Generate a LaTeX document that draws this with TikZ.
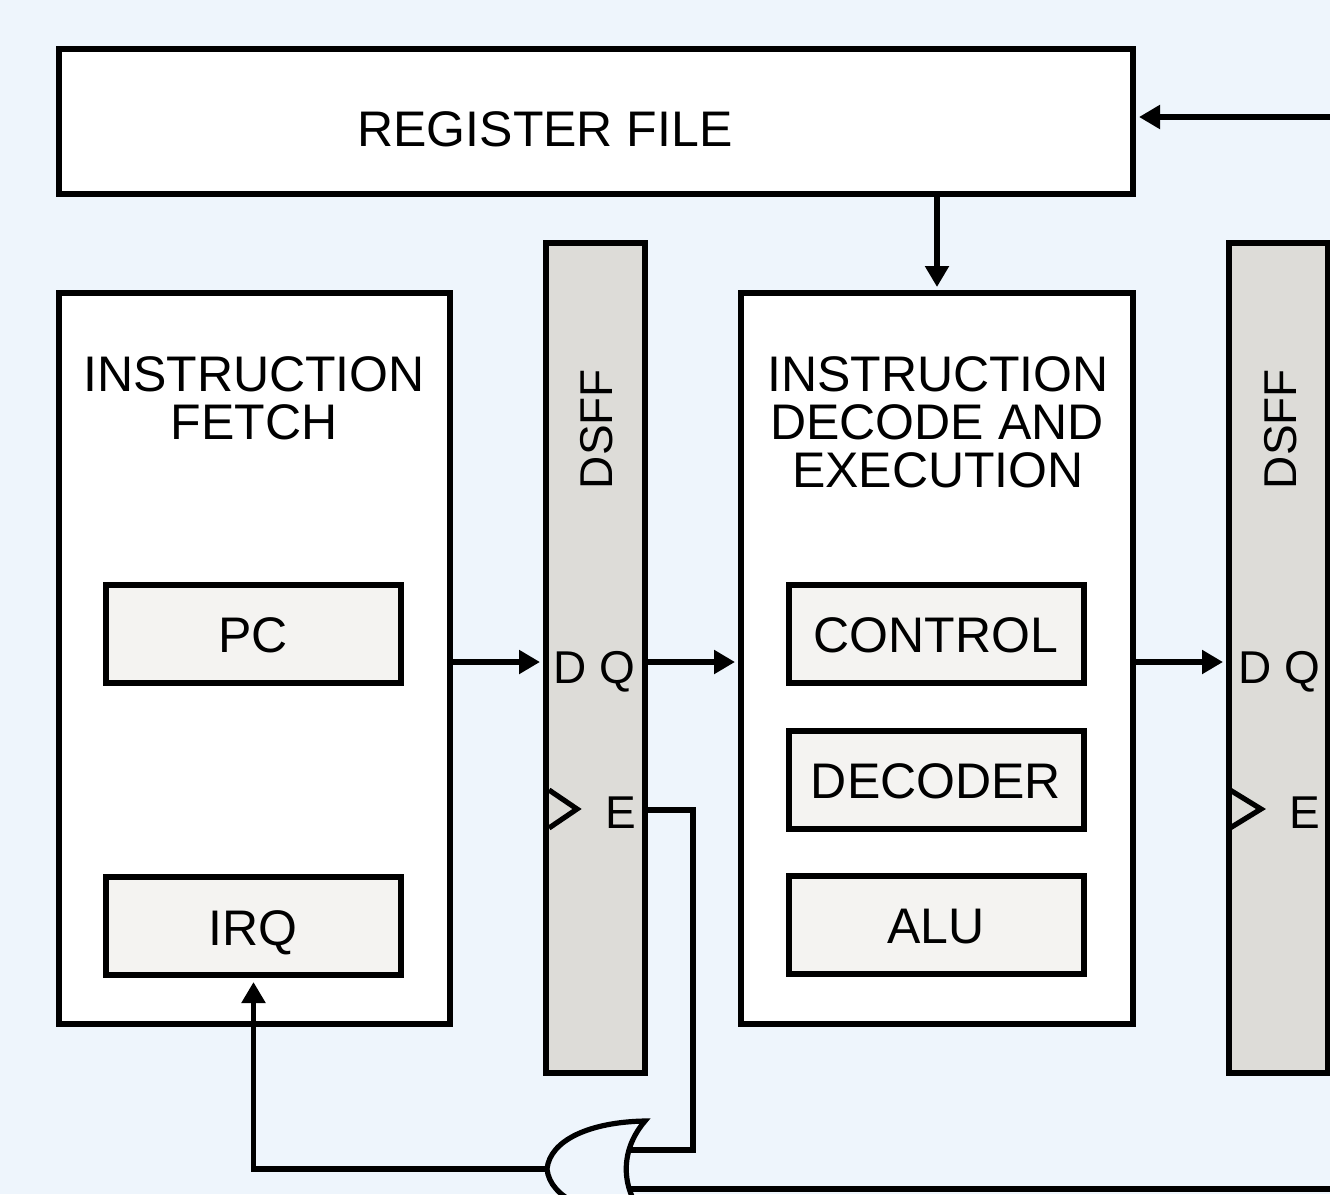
\documentclass[tikz,border=0pt]{standalone}
\usepackage{fontspec}
\setmainfont{Liberation Sans}
\usetikzlibrary{arrows.meta,calc}
\definecolor{bg}{HTML}{EEF5FC}
\definecolor{ffgray}{HTML}{DDDCD8}
\definecolor{subfill}{HTML}{F4F3F1}
\begin{document}
\begin{tikzpicture}[x=1pt,y=-1pt,line width=5.2pt,
  box/.style={draw,fill=white,anchor=north west,inner sep=0pt,outer sep=0pt},
  subbox/.style={box,fill=subfill,minimum width=295pt,minimum height=98pt},
  ffbox/.style={box,fill=ffgray,minimum width=99pt,minimum height=830pt},
  lbl/.style={font=\fontsize{50}{50}\selectfont,inner sep=0pt,anchor=base},
  pin/.style={font=\fontsize{46}{46}\selectfont,inner sep=0pt,anchor=base east},
  arr/.style={-{Triangle[length=21pt,width=23pt]},shorten >=6pt}]
\fill[bg] (0,0) rectangle (1330,1194);
\useasboundingbox (0,0) rectangle (1330,1194);
\clip (0,0) rectangle (1330,1194);

% main boxes
\node[box,minimum width=1074pt,minimum height=145pt] (rf) at (59,49) {};
\node[box,minimum width=391pt,minimum height=731pt] (ifb) at (59,293) {};
\node[ffbox] (ff1) at (546,243) {};
\node[box,minimum width=392pt,minimum height=731pt] (idb) at (741,293) {};
\node[ffbox] (ff2) at (1229,243) {};

% sub boxes
\node[subbox] (pc) at (106,585) {};
\node[subbox] (irq) at (106,877) {};
\node[subbox] (ctl) at (789,585) {};
\node[subbox] (dec) at (789,731) {};
\node[subbox] (alu) at (789,876) {};

% labels
\node[lbl] (rft) at (545,146) {REGISTER FILE};
\node[lbl] (if1) at (254,391) {INSTRUCTION};
\node[lbl] (if2) at (254,439) {FETCH};
\node[lbl] (id1) at (938,391) {INSTRUCTION};
\node[lbl] (id2) at (937,439) {DECODE AND};
\node[lbl] (id3) at (938,487) {EXECUTION};
\node[lbl] (pct) at (253,652) {PC};
\node[lbl] (irqt) at (253,945) {IRQ};
\node[lbl] (ctlt) at (936,652) {CONTROL};
\node[lbl] (dect) at (936,798) {DECODER};
\node[lbl] (alut) at (936,943) {ALU};

% flip-flop labels
\node[font=\fontsize{46}{46}\selectfont,inner sep=0pt,rotate=90] (ff1t) at (597,429) {DSFF};
\node[font=\fontsize{46}{46}\selectfont,inner sep=0pt,rotate=90] (ff2t) at (1281,429) {DSFF};
\node[pin] (ff1dq) at (638,683) {D Q};
\node[pin] (ff1e) at (639,828) {E};
\node[pin] (ff2dq) at (1323,683) {D Q};
\node[pin] (ff2e) at (1323,828) {E};

% clock triangles
\draw[line join=miter] (549,790) -- (577,809) -- (549,828);
\draw[line join=miter] (1230,790) -- (1261,809) -- (1230,828);

% connectors
\coordinate (rin) at (1345,117);
\draw[arr] (rin) -- (rin -| rf.east);
\draw[arr] (rf.south -| 937,0) -- (idb.north -| 937,0);
\coordinate (dlev) at (0,662);
\draw[arr] (ifb.east |- dlev) -- (ff1.west |- dlev);
\draw[arr] (ff1.east |- dlev) -- (idb.west |- dlev);
\draw[arr] (idb.east |- dlev) -- (ff2.west |- dlev);

% OR gate
\coordinate (gin1) at (629,1150);
\coordinate (gin2) at (629,1189);
\coordinate (gout) at (547,1169);
\draw[line join=miter] (645,1121) .. controls (620,1150) and (620,1188) .. (645,1217)
  .. controls (590,1216) and (550,1198) .. (gout)
  .. controls (550,1140) and (590,1122) .. (645,1121) -- cycle;

\coordinate (ffE) at (645,810);
\draw[line join=miter] (ffE) -- (693,810) -- (693,1150) -- (gin1);
\draw (gin2) -- (1345,1189);
\draw[arr,shorten >=7pt] (gout) -| (irq.south);
\end{tikzpicture}
\end{document}
